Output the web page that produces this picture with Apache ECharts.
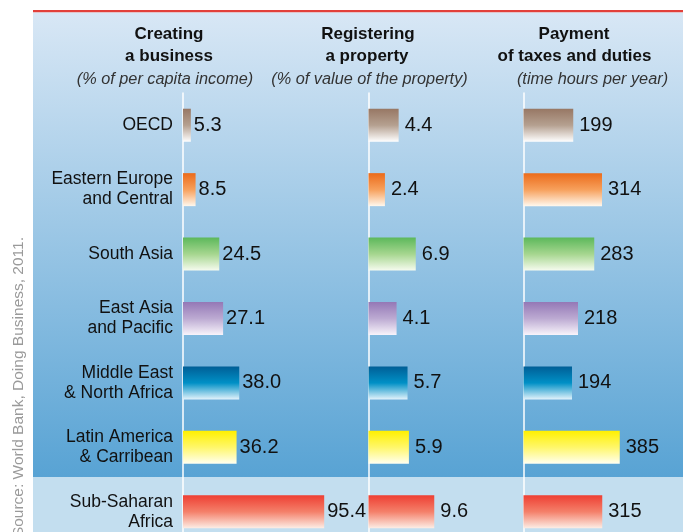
<!DOCTYPE html>
<html>
<head>
<meta charset="utf-8">
<title>Doing business by region</title>
<script src="https://cdn.jsdelivr.net/npm/echarts@6/dist/echarts.min.js"></script>
<style>
  html, body { margin: 0; padding: 0; background: #ffffff; }
  #chart { width: 683px; height: 532px; }
</style>
</head>
<body>
<div id="chart"></div>
<script>
// data
var regions = ['OECD', 'Eastern Europe\nand Central', 'South Asia', 'East Asia\nand Pacific',
  'Middle East\n& North Africa', 'Latin America\n& Carribean', 'Sub-Saharan\nAfrica']
var creatingBusiness = [5.3, 8.5, 24.5, 27.1, 38.0, 36.2, 95.4]
var registeringProperty = [4.4, 2.4, 6.9, 4.1, 5.7, 5.9, 9.6]
var payingTaxes = [199, 314, 283, 218, 194, 385, 315]

// one gradient per region: top, middle, bottom
var regionColors = [
  ['#977764', '#b5a090', '#ffffff'],
  ['#eb6b1a', '#f7a05c', '#fff8ee'],
  ['#5cb85b', '#a6d68f', '#f6fbef'],
  ['#9478b6', '#bcaad2', '#f8f4fb'],
  ['#005e96', '#0090c6', '#e2f2fb'],
  ['#fff000', '#fff76a', '#fffff2'],
  ['#ee3f33', '#f4806a', '#fdeee6']
]

var FONT = '"Liberation Sans", Arial, Helvetica, sans-serif'

function barGradient (i) {
  var c = regionColors[i]
  return new echarts.graphic.LinearGradient(0, 0, 0, 1, [
    {offset: 0, color: c[0]},
    {offset: 0.5, color: c[1]},
    {offset: 1, color: c[2]}
  ])
}

function makeSeries (values, index, digits, gap) {
  return {
    type: 'bar',
    xAxisIndex: index,
    yAxisIndex: index,
    barWidth: 33,
    data: values.map(function (v, i) {
      return {value: v, itemStyle: {color: barGradient(i)}}
    }),
    label: {
      show: true,
      position: 'right',
      distance: gap,
      fontFamily: FONT,
      fontSize: 20,
      color: '#111',
      formatter: function (p) { return p.value.toFixed(digits) }
    }
  }
}

function makeYAxis (index, showLabels) {
  return {
    type: 'category',
    gridIndex: index,
    inverse: true,
    data: regions,
    axisTick: {show: false},
    axisLine: {show: true, lineStyle: {color: '#ffffff', width: 1.5}},
    axisLabel: {
      show: showLabels,
      margin: 10,
      fontFamily: FONT,
      fontSize: 17.5,
      lineHeight: 20,
      color: '#111',
      padding: [0, 0, 8, 0]
    }
  }
}

function makeXAxis (index, max) {
  return {type: 'value', gridIndex: index, min: 0, max: max, show: false}
}

function makeGrid (left, width) {
  // the last row runs past the bottom edge, so do not let the grid be squeezed in
  return {left: left, top: 93, width: width, height: 451, outerBoundsMode: 'none'}
}

function headerText (text, x, y, style) {
  return {
    type: 'text',
    z: 10,
    style: {
      text: text,
      x: x,
      y: y,
      textAlign: 'center',
      textVerticalAlign: 'middle',
      fontFamily: FONT,
      fontSize: style === 'sub' ? 16.3 : 17,
      fontWeight: style === 'sub' ? 'normal' : 'bold',
      fontStyle: style === 'sub' ? 'italic' : 'normal',
      fill: style === 'sub' ? '#333' : '#111'
    }
  }
}

var option = {
  animation: false,
  grid: [makeGrid(183, 148), makeGrid(368.5, 68.5), makeGrid(523.5, 100)],
  xAxis: [makeXAxis(0, 100), makeXAxis(1, 10), makeXAxis(2, 400)],
  yAxis: [makeYAxis(0, true), makeYAxis(1, false), makeYAxis(2, false)],
  series: [
    makeSeries(creatingBusiness, 0, 1, 3),
    makeSeries(registeringProperty, 1, 1, 6),
    makeSeries(payingTaxes, 2, 0, 6)
  ],
  graphic: [
    // backdrop
    {type: 'rect', z: -1, shape: {x: 33, y: 10, width: 650, height: 2.5}, style: {fill: '#e2403a'}},
    {
      type: 'rect',
      z: -1,
      shape: {x: 33, y: 12.5, width: 650, height: 464.5},
      style: {
        fill: new echarts.graphic.LinearGradient(0, 0, 0, 1, [
          {offset: 0, color: '#d8e7f5'},
          {offset: 1, color: '#58a3d4'}
        ])
      }
    },
    {type: 'rect', z: -1, shape: {x: 33, y: 477, width: 650, height: 55}, style: {fill: '#c3deef'}},
    // column headers
    headerText('Creating', 169, 34),
    headerText('a business', 169, 56),
    headerText('(% of per capita income)', 165, 79, 'sub'),
    headerText('Registering', 368, 34),
    headerText('a property', 367, 56),
    headerText('(% of value of the property)', 369.5, 79, 'sub'),
    headerText('Payment', 574, 34),
    headerText('of taxes and duties', 574.5, 56),
    headerText('(time hours per year)', 592.5, 79, 'sub'),
    // source note, running up the left edge
    {
      type: 'text',
      x: 19,
      y: 237,
      rotation: Math.PI / 2,
      style: {
        text: 'Source: World Bank, Doing Business, 2011.',
        textAlign: 'right',
        textVerticalAlign: 'middle',
        fontFamily: FONT,
        fontSize: 15.5,
        fill: '#9a9a9a'
      }
    }
  ]
}

var myChart = echarts.init(document.getElementById('chart'))
myChart.setOption(option)
</script>
</body>
</html>
